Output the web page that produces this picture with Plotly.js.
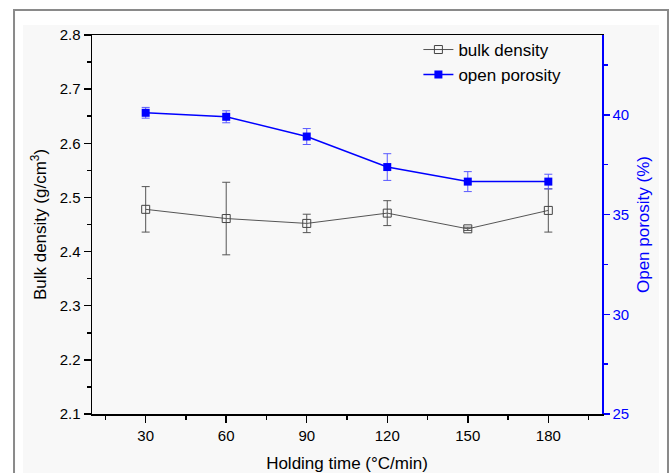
<!DOCTYPE html>
<html>
<head>
<meta charset="utf-8">
<script src="https://cdn.plot.ly/plotly-3.0.1.min.js"></script>
<style>html,body{margin:0;padding:0;background:#fff;}#chart{width:669px;height:473px;}</style>
</head>
<body>
<div id="chart"></div>
<script>
const holdingTime = [30, 60, 90, 120, 150, 180];
const bulkDensity = [2.478, 2.461, 2.452, 2.471, 2.442, 2.476];
const bulkDensityErr = [0.042, 0.067, 0.017, 0.023, 0.003, 0.040];
const openPorosity = [40.10, 39.90, 38.91, 37.38, 36.65, 36.65];
const openPorosityErr = [0.27, 0.30, 0.40, 0.67, 0.50, 0.37];
const xTickVals = [30, 60, 90, 120, 150, 180];
const seriesNames = ['bulk density', 'open porosity'];

const FONT = 'Liberation Sans, Arial, sans-serif';

const traces = [
  {
    x: holdingTime, y: bulkDensity, name: seriesNames[0], type: 'scatter', mode: 'lines+markers',
    line: {color: '#555555', width: 1},
    marker: {symbol: 'square-open', size: 8, color: '#444444', line: {width: 1, color: '#444444'}},
    error_y: {type: 'data', array: bulkDensityErr, visible: true, color: '#555555', thickness: 1, width: 4},
    yaxis: 'y'
  },
  {
    x: holdingTime, y: openPorosity, name: seriesNames[1], type: 'scatter', mode: 'lines+markers',
    line: {color: '#0000ff', width: 1.5},
    marker: {symbol: 'square', size: 8, color: '#0000ff'},
    error_y: {type: 'data', array: openPorosityErr, visible: true, color: '#5a5aff', thickness: 1, width: 4},
    yaxis: 'y2'
  }
];

const layout = {
  width: 669, height: 473,
  margin: {l: 92, r: 67, t: 35, b: 59},
  paper_bgcolor: '#ffffff',
  plot_bgcolor: 'rgba(0,0,0,0)',
  font: {family: FONT, size: 15, color: '#000'},
  showlegend: true,
  legend: {x: 0.64, y: 1.008, xanchor: 'left', yanchor: 'top', bgcolor: 'rgba(0,0,0,0)',
           font: {family: FONT, size: 17, color: '#000'}, tracegroupgap: 0, itemwidth: 30},
  xaxis: {
    range: [10, 200], showgrid: false, zeroline: false,
    showline: true, linecolor: '#000', linewidth: 1.5, mirror: true,
    ticks: 'outside', ticklen: 7, tickwidth: 1.5, tickcolor: '#000',
    tickvals: xTickVals,
    minor: {dtick: 15, tick0: 0, ticks: 'outside', ticklen: 4, tickwidth: 1.5, tickcolor: '#000'},
    tickfont: {family: FONT, size: 15, color: '#000'},
    title: {text: 'Holding time (°C/min)', font: {family: FONT, size: 17, color: '#000'}, standoff: 16}
  },
  yaxis: {
    range: [2.1, 2.8], showgrid: false, zeroline: false,
    showline: true, linecolor: '#000', linewidth: 1.5,
    ticks: 'outside', ticklen: 7, tickwidth: 1.5, tickcolor: '#000',
    dtick: 0.1, tick0: 2.1, tickformat: '.1f',
    minor: {dtick: 0.05, tick0: 2.1, ticks: 'outside', ticklen: 4, tickwidth: 1.5, tickcolor: '#000'},
    tickfont: {family: FONT, size: 15, color: '#000'},
    title: {text: 'Bulk density (g/cm<sup>3</sup>)', font: {family: FONT, size: 17, color: '#000'}, standoff: 8}
  },
  yaxis2: {
    overlaying: 'y', side: 'right', anchor: 'x',
    range: [25, 44], showgrid: false, zeroline: false,
    showline: true, linecolor: '#0000ff', linewidth: 1.5,
    ticks: 'outside', ticklen: 6, tickwidth: 1.5, tickcolor: '#0000ff',
    dtick: 5, tick0: 25,
    minor: {dtick: 2.5, tick0: 25, ticks: 'outside', ticklen: 4, tickwidth: 1.5, tickcolor: '#0000ff'},
    tickfont: {family: FONT, size: 15, color: '#0000ff'},
    title: {text: 'Open porosity (%)', font: {family: FONT, size: 17, color: '#0000ff'}, standoff: 9}
  },
  shapes: [
    {type: 'rect', xref: 'paper', yref: 'paper', x0: -0.1529, x1: 1.1294, y0: -0.3, y1: 1.066,
     line: {color: '#8a8a8a', width: 2}, fillcolor: '#ffffff', layer: 'below'},
    {type: 'rect', xref: 'paper', yref: 'paper', x0: -0.1353, x1: 1.1118, y0: -0.3, y1: 1.0264,
     line: {width: 0}, fillcolor: '#f8f8f8', layer: 'below'}
  ]
};

Plotly.newPlot('chart', traces, layout, {displayModeBar: false, staticPlot: true});
</script>
</body>
</html>
